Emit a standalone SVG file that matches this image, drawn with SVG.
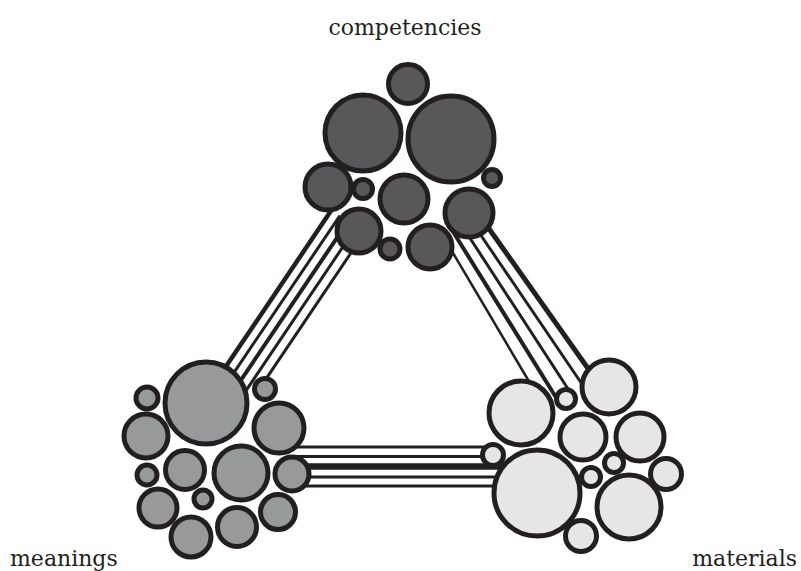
<svg xmlns="http://www.w3.org/2000/svg" width="801" height="571" viewBox="0 0 801 571">
<style>
.ln{stroke:#231f20;fill:none;stroke-linecap:butt}
.c{stroke:#231f20;stroke-width:5}
.dark{fill:#58585a}
.mid{fill:#98999b}
.light{fill:#e6e6e7}
.lbl{font-family:"DejaVu Serif","Liberation Serif",serif;font-size:22px;fill:#231f20}
</style>
<rect width="801" height="571" fill="#ffffff"/>
<g id="connectors">
  <g id="link-competencies-meanings">
    <line class="ln" x1="225.2" y1="367.6" x2="334.4" y2="205.8" stroke-width="4.5"/>
    <line class="ln" x1="232.9" y1="374.1" x2="339.9" y2="215.6" stroke-width="3"/>
    <line class="ln" x1="239" y1="383" x2="345.4" y2="225.3" stroke-width="4"/>
    <line class="ln" x1="244.5" y1="392.8" x2="349.2" y2="237.5" stroke-width="3"/>
    <line class="ln" x1="264" y1="381.8" x2="355.3" y2="246.5" stroke-width="3"/>
  </g>
  <g id="link-competencies-materials">
    <line class="ln" x1="440.6" y1="232" x2="531.1" y2="385" stroke-width="2.5"/>
    <line class="ln" x1="449.5" y1="226" x2="557.6" y2="400" stroke-width="4"/>
    <line class="ln" x1="463.4" y1="228" x2="572" y2="395" stroke-width="3"/>
    <line class="ln" x1="477.3" y1="230" x2="586" y2="390" stroke-width="3"/>
    <line class="ln" x1="487.1" y1="226" x2="590.5" y2="372" stroke-width="5"/>
  </g>
  <g id="link-meanings-materials">
    <line class="ln" x1="292" y1="447" x2="490" y2="447" stroke-width="2.8"/>
    <line class="ln" x1="291" y1="456.5" x2="488" y2="456.5" stroke-width="2.8"/>
    <line class="ln" x1="300" y1="466.5" x2="505" y2="466.5" stroke-width="6.5"/>
    <line class="ln" x1="300" y1="477" x2="500" y2="477" stroke-width="2.8"/>
    <line class="ln" x1="298" y1="486" x2="498" y2="486" stroke-width="2.8"/>
  </g>
</g>
<g id="competencies">
  <circle class="c dark" cx="408" cy="84" r="19.5"/>
  <circle class="c dark" cx="363" cy="133" r="38"/>
  <circle class="c dark" cx="451" cy="139" r="43"/>
  <circle class="c dark" cx="328" cy="187" r="23"/>
  <circle class="c dark" cx="363" cy="189" r="9.5"/>
  <circle class="c dark" cx="404" cy="199" r="24"/>
  <circle class="c dark" cx="492" cy="178" r="8.5"/>
  <circle class="c dark" cx="469" cy="213" r="24"/>
  <circle class="c dark" cx="359" cy="231" r="22"/>
  <circle class="c dark" cx="390" cy="249" r="10"/>
  <circle class="c dark" cx="430" cy="247" r="22"/>
  <text class="lbl" x="405" y="35" text-anchor="middle">competencies</text>
</g>
<g id="meanings">
  <circle class="c mid" cx="206" cy="403" r="41"/>
  <circle class="c mid" cx="147" cy="398" r="11"/>
  <circle class="c mid" cx="265" cy="389" r="10.5"/>
  <circle class="c mid" cx="146" cy="436" r="22"/>
  <circle class="c mid" cx="279" cy="428" r="25"/>
  <circle class="c mid" cx="147" cy="475" r="10"/>
  <circle class="c mid" cx="185" cy="470" r="19.5"/>
  <circle class="c mid" cx="241" cy="473" r="27"/>
  <circle class="c mid" cx="292" cy="474" r="17"/>
  <circle class="c mid" cx="203" cy="499" r="9"/>
  <circle class="c mid" cx="158" cy="508" r="19"/>
  <circle class="c mid" cx="278" cy="512" r="17.5"/>
  <circle class="c mid" cx="237" cy="527" r="19.5"/>
  <circle class="c mid" cx="191" cy="537" r="20"/>
  <text class="lbl" x="10" y="566">meanings</text>
</g>
<g id="materials">
  <circle class="c light" cx="521" cy="413" r="32"/>
  <circle class="c light" cx="566" cy="399" r="9.5"/>
  <circle class="c light" cx="609" cy="387" r="27"/>
  <circle class="c light" cx="583" cy="437" r="23"/>
  <circle class="c light" cx="640" cy="437" r="24"/>
  <circle class="c light" cx="493" cy="455" r="10.5"/>
  <circle class="c light" cx="614" cy="463" r="9.5"/>
  <circle class="c light" cx="666" cy="474" r="15.5"/>
  <circle class="c light" cx="591" cy="477" r="9.5"/>
  <circle class="c light" cx="537" cy="493" r="43"/>
  <circle class="c light" cx="629" cy="507" r="32"/>
  <circle class="c light" cx="581" cy="536" r="15.5"/>
  <text class="lbl" x="797" y="566" text-anchor="end">materials</text>
</g>
</svg>
